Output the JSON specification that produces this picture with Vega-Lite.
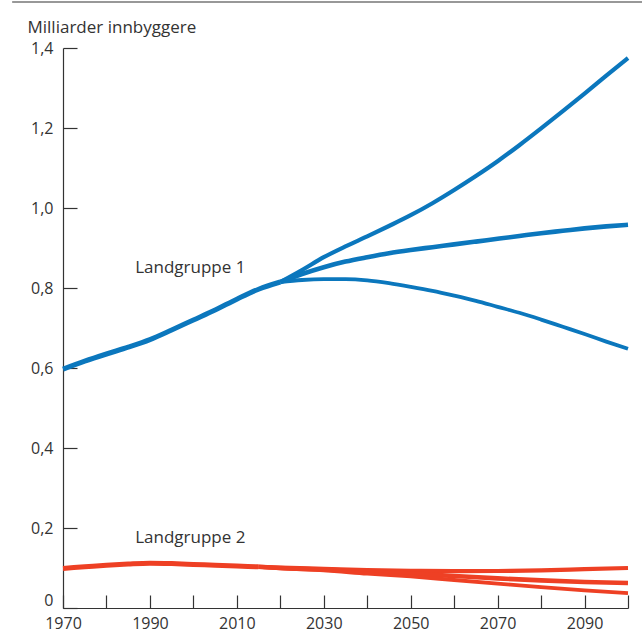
{
  "$schema": "https://vega.github.io/schema/vega-lite/v6.json",
  "width": 565,
  "height": 560,
  "autosize": {"type": "none"},
  "padding": {"left": 63, "top": 48, "right": 14, "bottom": 25},
  "background": "white",
  "config": {
    "view": {"stroke": null},
    "font": "Open Sans",
    "axis": {"labelFont": "Open Sans", "titleFont": "Open Sans", "domainColor": "#333333", "tickColor": "#333333", "labelColor": "#333333", "titleColor": "#333333", "grid": false}
  },
  "datasets": {
    "pop": [
      {"group": "Landgruppe 1", "variant": "Historisk", "year": 1970, "value": 0.597},
      {"group": "Landgruppe 1", "variant": "Historisk", "year": 1975, "value": 0.617},
      {"group": "Landgruppe 1", "variant": "Historisk", "year": 1980, "value": 0.635},
      {"group": "Landgruppe 1", "variant": "Historisk", "year": 1985, "value": 0.652},
      {"group": "Landgruppe 1", "variant": "Historisk", "year": 1990, "value": 0.671},
      {"group": "Landgruppe 1", "variant": "Historisk", "year": 1995, "value": 0.695},
      {"group": "Landgruppe 1", "variant": "Historisk", "year": 2000, "value": 0.72},
      {"group": "Landgruppe 1", "variant": "Historisk", "year": 2005, "value": 0.745},
      {"group": "Landgruppe 1", "variant": "Historisk", "year": 2010, "value": 0.772},
      {"group": "Landgruppe 1", "variant": "Historisk", "year": 2015, "value": 0.797},
      {"group": "Landgruppe 1", "variant": "Historisk", "year": 2020, "value": 0.815},
      {"group": "Landgruppe 1", "variant": "Høy", "year": 2020, "value": 0.815},
      {"group": "Landgruppe 1", "variant": "Høy", "year": 2025, "value": 0.845},
      {"group": "Landgruppe 1", "variant": "Høy", "year": 2030, "value": 0.877},
      {"group": "Landgruppe 1", "variant": "Høy", "year": 2035, "value": 0.904},
      {"group": "Landgruppe 1", "variant": "Høy", "year": 2040, "value": 0.929},
      {"group": "Landgruppe 1", "variant": "Høy", "year": 2045, "value": 0.955},
      {"group": "Landgruppe 1", "variant": "Høy", "year": 2050, "value": 0.982},
      {"group": "Landgruppe 1", "variant": "Høy", "year": 2055, "value": 1.012},
      {"group": "Landgruppe 1", "variant": "Høy", "year": 2060, "value": 1.045},
      {"group": "Landgruppe 1", "variant": "Høy", "year": 2065, "value": 1.08},
      {"group": "Landgruppe 1", "variant": "Høy", "year": 2070, "value": 1.117},
      {"group": "Landgruppe 1", "variant": "Høy", "year": 2075, "value": 1.157},
      {"group": "Landgruppe 1", "variant": "Høy", "year": 2080, "value": 1.199},
      {"group": "Landgruppe 1", "variant": "Høy", "year": 2085, "value": 1.242},
      {"group": "Landgruppe 1", "variant": "Høy", "year": 2090, "value": 1.286},
      {"group": "Landgruppe 1", "variant": "Høy", "year": 2095, "value": 1.331},
      {"group": "Landgruppe 1", "variant": "Høy", "year": 2100, "value": 1.375},
      {"group": "Landgruppe 1", "variant": "Middels", "year": 2020, "value": 0.815},
      {"group": "Landgruppe 1", "variant": "Middels", "year": 2025, "value": 0.835},
      {"group": "Landgruppe 1", "variant": "Middels", "year": 2030, "value": 0.852},
      {"group": "Landgruppe 1", "variant": "Middels", "year": 2035, "value": 0.866},
      {"group": "Landgruppe 1", "variant": "Middels", "year": 2040, "value": 0.877},
      {"group": "Landgruppe 1", "variant": "Middels", "year": 2045, "value": 0.887},
      {"group": "Landgruppe 1", "variant": "Middels", "year": 2050, "value": 0.895},
      {"group": "Landgruppe 1", "variant": "Middels", "year": 2055, "value": 0.902},
      {"group": "Landgruppe 1", "variant": "Middels", "year": 2060, "value": 0.909},
      {"group": "Landgruppe 1", "variant": "Middels", "year": 2065, "value": 0.916},
      {"group": "Landgruppe 1", "variant": "Middels", "year": 2070, "value": 0.923},
      {"group": "Landgruppe 1", "variant": "Middels", "year": 2075, "value": 0.93},
      {"group": "Landgruppe 1", "variant": "Middels", "year": 2080, "value": 0.937},
      {"group": "Landgruppe 1", "variant": "Middels", "year": 2085, "value": 0.943},
      {"group": "Landgruppe 1", "variant": "Middels", "year": 2090, "value": 0.949},
      {"group": "Landgruppe 1", "variant": "Middels", "year": 2095, "value": 0.954},
      {"group": "Landgruppe 1", "variant": "Middels", "year": 2100, "value": 0.958},
      {"group": "Landgruppe 1", "variant": "Lav", "year": 2020, "value": 0.815},
      {"group": "Landgruppe 1", "variant": "Lav", "year": 2025, "value": 0.82},
      {"group": "Landgruppe 1", "variant": "Lav", "year": 2030, "value": 0.822},
      {"group": "Landgruppe 1", "variant": "Lav", "year": 2035, "value": 0.822},
      {"group": "Landgruppe 1", "variant": "Lav", "year": 2040, "value": 0.819},
      {"group": "Landgruppe 1", "variant": "Lav", "year": 2045, "value": 0.812},
      {"group": "Landgruppe 1", "variant": "Lav", "year": 2050, "value": 0.803},
      {"group": "Landgruppe 1", "variant": "Lav", "year": 2055, "value": 0.793},
      {"group": "Landgruppe 1", "variant": "Lav", "year": 2060, "value": 0.781},
      {"group": "Landgruppe 1", "variant": "Lav", "year": 2065, "value": 0.768},
      {"group": "Landgruppe 1", "variant": "Lav", "year": 2070, "value": 0.753},
      {"group": "Landgruppe 1", "variant": "Lav", "year": 2075, "value": 0.738},
      {"group": "Landgruppe 1", "variant": "Lav", "year": 2080, "value": 0.721},
      {"group": "Landgruppe 1", "variant": "Lav", "year": 2085, "value": 0.703},
      {"group": "Landgruppe 1", "variant": "Lav", "year": 2090, "value": 0.685},
      {"group": "Landgruppe 1", "variant": "Lav", "year": 2095, "value": 0.666},
      {"group": "Landgruppe 1", "variant": "Lav", "year": 2100, "value": 0.648},
      {"group": "Landgruppe 2", "variant": "Historisk", "year": 1970, "value": 0.099},
      {"group": "Landgruppe 2", "variant": "Historisk", "year": 1975, "value": 0.103},
      {"group": "Landgruppe 2", "variant": "Historisk", "year": 1980, "value": 0.107},
      {"group": "Landgruppe 2", "variant": "Historisk", "year": 1985, "value": 0.110},
      {"group": "Landgruppe 2", "variant": "Historisk", "year": 1990, "value": 0.112},
      {"group": "Landgruppe 2", "variant": "Historisk", "year": 1995, "value": 0.111},
      {"group": "Landgruppe 2", "variant": "Historisk", "year": 2000, "value": 0.109},
      {"group": "Landgruppe 2", "variant": "Historisk", "year": 2005, "value": 0.107},
      {"group": "Landgruppe 2", "variant": "Historisk", "year": 2010, "value": 0.105},
      {"group": "Landgruppe 2", "variant": "Historisk", "year": 2015, "value": 0.103},
      {"group": "Landgruppe 2", "variant": "Høy", "year": 2015, "value": 0.103},
      {"group": "Landgruppe 2", "variant": "Høy", "year": 2020, "value": 0.101},
      {"group": "Landgruppe 2", "variant": "Høy", "year": 2030, "value": 0.098},
      {"group": "Landgruppe 2", "variant": "Høy", "year": 2040, "value": 0.095},
      {"group": "Landgruppe 2", "variant": "Høy", "year": 2050, "value": 0.093},
      {"group": "Landgruppe 2", "variant": "Høy", "year": 2060, "value": 0.092},
      {"group": "Landgruppe 2", "variant": "Høy", "year": 2070, "value": 0.0925},
      {"group": "Landgruppe 2", "variant": "Høy", "year": 2080, "value": 0.094},
      {"group": "Landgruppe 2", "variant": "Høy", "year": 2090, "value": 0.097},
      {"group": "Landgruppe 2", "variant": "Høy", "year": 2100, "value": 0.1},
      {"group": "Landgruppe 2", "variant": "Middels", "year": 2015, "value": 0.103},
      {"group": "Landgruppe 2", "variant": "Middels", "year": 2020, "value": 0.1},
      {"group": "Landgruppe 2", "variant": "Middels", "year": 2030, "value": 0.096},
      {"group": "Landgruppe 2", "variant": "Middels", "year": 2040, "value": 0.091},
      {"group": "Landgruppe 2", "variant": "Middels", "year": 2050, "value": 0.086},
      {"group": "Landgruppe 2", "variant": "Middels", "year": 2060, "value": 0.08},
      {"group": "Landgruppe 2", "variant": "Middels", "year": 2070, "value": 0.074},
      {"group": "Landgruppe 2", "variant": "Middels", "year": 2080, "value": 0.069},
      {"group": "Landgruppe 2", "variant": "Middels", "year": 2090, "value": 0.065},
      {"group": "Landgruppe 2", "variant": "Middels", "year": 2100, "value": 0.0625},
      {"group": "Landgruppe 2", "variant": "Lav", "year": 2015, "value": 0.103},
      {"group": "Landgruppe 2", "variant": "Lav", "year": 2020, "value": 0.099},
      {"group": "Landgruppe 2", "variant": "Lav", "year": 2030, "value": 0.094},
      {"group": "Landgruppe 2", "variant": "Lav", "year": 2040, "value": 0.086},
      {"group": "Landgruppe 2", "variant": "Lav", "year": 2050, "value": 0.079},
      {"group": "Landgruppe 2", "variant": "Lav", "year": 2060, "value": 0.07},
      {"group": "Landgruppe 2", "variant": "Lav", "year": 2070, "value": 0.061},
      {"group": "Landgruppe 2", "variant": "Lav", "year": 2080, "value": 0.052},
      {"group": "Landgruppe 2", "variant": "Lav", "year": 2090, "value": 0.044},
      {"group": "Landgruppe 2", "variant": "Lav", "year": 2100, "value": 0.037}
    ],
    "labels": [
      {"label": "Landgruppe 1", "year": 1986.6, "value": 0.8375},
      {"label": "Landgruppe 2", "year": 1986.6, "value": 0.163}
    ]
  },
  "layer": [
    {
      "data": {"values": [{}]},
      "mark": {"type": "rule", "color": "#333333", "strokeWidth": 1.2, "clip": false},
      "encoding": {
        "x": {"datum": 1958.3, "type": "quantitative"},
        "x2": {"datum": 2103.5},
        "y": {"datum": 1.515, "type": "quantitative"}
      }
    },
    {
      "data": {"name": "pop"},
      "mark": {"type": "line", "interpolate": "monotone", "clip": false},
      "encoding": {
        "x": {
          "field": "year", "type": "quantitative",
          "scale": {"domain": [1970, 2100], "nice": false, "zero": false},
          "axis": {
            "title": null,
            "values": [1970, 1980, 1990, 2000, 2010, 2020, 2030, 2040, 2050, 2060, 2070, 2080, 2090, 2100],
            "labelExpr": "(datum.value - 1970) % 20 === 0 && datum.value < 2100 ? datum.value + '' : ''",
            "tickSize": -13,
            "labelPadding": 20,
            "labelFontSize": 16,
            "labelFlush": false,
            "labelOverlap": false,
            "domainWidth": 1.2,
            "tickWidth": 1.2
          }
        },
        "y": {
          "field": "value", "type": "quantitative",
          "scale": {"domain": [0, 1.4], "nice": false, "zero": true},
          "axis": {
            "values": [0, 0.2, 0.4, 0.6, 0.8, 1.0, 1.2, 1.4],
            "labelExpr": "datum.value === 0 ? '0' : replace(format(datum.value, '.1f'), '.', ',')",
            "tickSize": -14,
            "labelPadding": 24,
            "labelFontSize": 16,
            "labelFlush": false,
            "labelOverlap": false,
            "labelBaseline": {"condition": {"test": "datum.value === 0", "value": "bottom"}, "value": "middle"},
            "domainWidth": 1.2,
            "tickWidth": 1.2,
            "title": "Milliarder innbyggere",
            "titleAngle": 0,
            "titleAlign": "left",
            "titleBaseline": "alphabetic",
            "titleX": -36,
            "titleY": -16,
            "titleFontSize": 17,
            "titleFontWeight": "normal"
          }
        },
        "color": {
          "field": "group", "type": "nominal",
          "scale": {"domain": ["Landgruppe 1", "Landgruppe 2"], "range": ["#0b77bd", "#ee4024"]},
          "legend": null
        },
        "strokeWidth": {
          "field": "variant", "type": "nominal",
          "scale": {"domain": ["Historisk", "Middels", "Høy", "Lav"], "range": [5, 3.8, 2.2, 2.2]},
          "legend": null
        },
        "order": {"field": "year", "type": "quantitative"}
      }
    },
    {
      "data": {"name": "labels"},
      "mark": {"type": "text", "align": "left", "baseline": "alphabetic", "fontSize": 17, "font": "Open Sans", "color": "#333333"},
      "encoding": {
        "x": {"field": "year", "type": "quantitative"},
        "y": {"field": "value", "type": "quantitative"},
        "text": {"field": "label"}
      }
    }
  ]
}
